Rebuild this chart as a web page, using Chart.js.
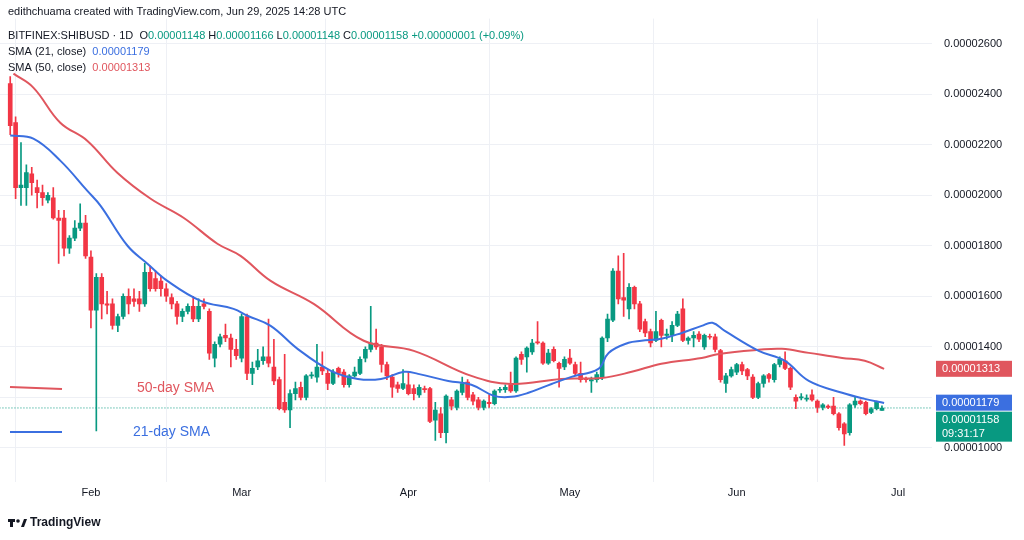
<!DOCTYPE html>
<html>
<head>
<meta charset="utf-8">
<script src="https://cdn.jsdelivr.net/npm/chart.js@4"></script>
<style>
  html, body { margin: 0; padding: 0; background: #fff; }
  #wrap { width: 1024px; height: 540px; position: relative; }
</style>
</head>
<body>
<div id="wrap"><canvas id="myChart" width="1024" height="540"></canvas></div>
<script>
// daily candles, SHIB/USD, Jan 17 .. Jun 29 2025, prices in units of 1e-6
const opens = [24.42,22.87,20.3,20.3,20.85,20.3,20.1,19.8,19.9,19.1,19.1,17.9,18.3,18.7,18.9,17.55,15.45,16.75,15.7,15.7,14.85,15.2,16.0,15.9,15.9,15.7,16.95,16.7,16.6,16.3,15.95,15.7,15.2,15.4,15.6,15.1,15.7,15.4,13.55,14.1,14.45,14.35,13.9,
  13.55,15.2,12.95,13.2,13.45,13.6,13.2,12.7,11.8,11.5,12.15,12.4,12.0,12.85,12.8,13.2,12.95,12.55,13.15,13.0,12.5,12.85,12.95,13.55,13.9,14.15,14.0,13.3,12.8,12.5,12.35,12.5,12.35,12.1,12.35,12.35,11.1,11.35,10.6,11.9,11.6,12.2,12.6,
  12.1,11.9,11.6,11.8,11.75,12.28,12.3,12.5,12.25,13.7,13.6,13.8,14.2,14.15,13.35,13.9,13.35,13.2,13.55,13.3,12.95,12.75,12.65,12.7,12.8,14.35,15.05,17.0,15.95,15.5,16.35,15.7,15.0,14.6,14.25,15.05,14.45,14.45,14.85,15.5,14.25,14.35,14.5,
  14.0,14.42,14.4,13.85,12.55,12.85,13.0,13.3,13.1,12.8,12.0,12.55,12.9,12.7,13.3,13.45,13.15,12.0,11.98,11.93,12.1,11.85,11.6,11.65,11.65,11.35,10.95,10.6,11.7,11.85,11.8,11.4,11.55,11.48];
const closes = [22.75,20.3,20.4,20.9,20.5,20.1,19.9,20.0,19.1,19.0,17.9,18.3,18.7,18.9,17.6,15.45,16.75,15.7,15.65,14.85,15.2,16.0,15.7,15.8,15.7,16.95,16.3,16.3,16.3,16.0,15.7,15.2,15.4,15.6,15.1,15.6,15.6,13.75,14.1,14.4,14.35,13.9,13.65,
  15.2,12.95,13.15,13.45,13.6,13.35,12.65,11.55,11.5,12.15,12.35,12.0,12.85,12.88,13.2,13.05,12.55,13.0,12.95,12.5,12.85,13.0,13.5,13.9,14.15,14.0,13.3,12.85,12.4,12.35,12.55,12.15,12.15,12.4,12.3,11.05,11.5,10.6,12.05,11.65,12.25,12.55,12.0,
  11.85,11.6,11.85,11.75,12.25,12.32,12.4,12.25,13.55,13.5,13.95,14.15,14.15,13.35,13.75,13.45,13.15,13.5,13.35,12.95,12.7,12.7,12.7,12.9,14.35,15.1,17.0,15.9,15.85,16.35,15.7,14.7,14.55,14.15,14.6,14.45,14.5,14.85,15.3,14.25,14.35,14.45,14.3,
  14.45,14.38,13.9,12.7,12.85,13.1,13.3,13.05,12.85,12.0,12.55,12.85,12.75,13.3,13.5,13.15,12.4,11.85,12.02,11.97,11.9,11.6,11.7,11.6,11.35,10.8,10.55,11.7,11.85,11.75,11.35,11.55,11.8,11.58];
const highs = [24.7,23.1,22.08,21.2,21.1,20.6,20.4,20.1,20.3,19.4,19.4,18.4,19.0,19.66,19.2,17.8,16.9,16.9,16.2,15.9,15.3,16.1,16.3,16.3,16.2,17.3,17.2,17.0,16.8,16.5,16.1,15.8,15.5,15.7,16.0,15.9,15.9,15.5,14.2,14.5,14.9,14.5,14.3,
  15.3,15.3,13.4,13.9,14.0,15.1,14.3,12.8,13.7,12.3,12.6,12.6,12.9,13.0,14.1,13.8,13.1,13.1,13.2,13.1,12.9,13.2,13.6,14.0,15.6,14.7,14.1,13.4,12.9,12.6,13.1,13.0,12.5,12.5,12.45,12.4,11.8,11.6,12.1,12.0,12.3,12.8,12.7,
  12.2,12.0,11.9,12.1,12.3,12.4,12.5,13.0,13.6,13.8,14.0,14.3,15.0,14.2,13.9,14.0,13.4,13.6,13.9,13.4,13.4,12.8,12.8,13.0,14.4,15.3,17.1,17.6,17.7,16.5,16.4,15.8,15.1,14.7,15.4,15.1,14.7,15.0,15.4,15.9,14.4,14.6,14.6,
  14.5,14.5,14.5,13.9,12.95,13.2,13.35,13.4,13.15,12.9,12.6,12.9,12.95,13.35,13.6,13.8,13.2,12.1,12.15,12.1,12.3,11.9,11.75,11.7,12.0,11.4,11.0,11.75,12.0,11.9,11.85,11.6,11.85,11.66];
const lows = [22.4,19.86,19.6,19.6,20.0,19.5,19.6,19.7,19.05,17.3,17.6,17.7,18.2,18.6,17.5,14.75,10.67,15.1,15.3,14.7,14.6,15.1,15.3,15.6,15.4,15.6,16.2,16.2,16.0,15.8,15.5,14.9,15.0,15.3,15.0,15.0,15.5,13.5,13.2,14.0,14.2,13.2,13.5,
  13.4,12.7,12.5,13.1,13.3,13.2,12.5,11.5,11.4,10.8,11.9,11.9,11.9,12.75,12.6,12.9,12.3,12.5,12.8,12.4,12.4,12.8,12.9,13.4,13.8,13.9,13.0,12.7,12.0,12.2,12.3,12.1,11.9,12.0,12.2,11.0,10.3,10.4,10.2,11.5,11.5,12.1,11.9,
  11.7,11.5,11.5,11.6,11.7,12.2,12.2,12.2,12.2,13.3,13.0,13.7,14.1,13.3,13.3,13.4,12.4,13.1,13.3,12.9,12.6,12.6,12.2,12.6,12.7,14.2,15.0,15.7,15.2,15.1,15.5,14.6,14.4,14.0,14.2,14.0,14.3,14.2,14.8,14.2,14.1,14.0,14.2,
  13.9,14.3,13.8,12.6,12.2,12.8,12.9,12.9,12.7,11.95,11.95,12.4,12.6,12.6,13.2,13.1,12.3,11.55,11.9,11.85,11.85,11.4,11.5,11.55,11.3,10.7,10.1,10.5,11.6,11.7,11.3,11.35,11.5,11.48];

// moving averages: [day index, value]
const sma50 = [[0.6,24.81],[4.3,24.26],[9.3,22.87],[14.3,22.16],[19.9,20.89],[26.1,19.86],[32.2,19.11],[38.5,18.08],[42.8,17.6],[48.4,16.61],[56.4,15.7],[65.7,14.24],[75,13.84],[85.7,12.85],[93.1,12.53],[102.4,12.73],[109.9,12.77],[115.5,13.01],[121,13.33],[128.5,13.56],[131.7,13.72],[139.1,13.88],[143.4,13.92],[148.4,13.76],[154.6,13.56],[158.8,13.45],[162.4,13.13]];
const sma21 = [[0,22.36],[4.3,22.24],[9.3,21.37],[14.3,20.18],[16.8,19.58],[21.8,18.0],[25.5,17.29],[29.2,16.61],[35.4,15.82],[41.5,15.5],[44.1,15.23],[48.4,14.83],[53.4,13.92],[59.6,13.05],[64.6,12.73],[68.9,12.73],[73.2,13.01],[75.8,12.93],[81.4,12.65],[85.7,12.5],[89.9,12.06],[93.1,12.02],[96.3,12.18],[100.6,12.53],[104.3,12.81],[109.3,13.13],[111.2,13.76],[114.9,14.16],[117.3,14.24],[121,14.32],[124.8,14.55],[128.5,14.83],[130.5,14.95],[132.8,14.63],[139.1,13.84],[143.9,13.45],[148.4,12.65],[154.6,12.18],[158.8,11.94],[162.4,11.78]];

const monthTicks = [15, 43, 74, 104, 135, 165];
const monthLabels = ['Feb', 'Mar', 'Apr', 'May', 'Jun', 'Jul'];
const priceTicks = [10, 14, 16, 18, 20, 22, 24, 26];
const gridPrices = [10, 12, 14, 16, 18, 20, 22, 24, 26];
const lastPrice = 11.58, lastSma21 = 11.79, lastSma50 = 13.13;

const UP = '#089981', DOWN = '#f23645', RED_SMA = '#e0565e', BLUE_SMA = '#3b6fe0';
const fmt = v => (v * 1e-6).toFixed(8);

const candleColor = opens.map((o, i) => closes[i] >= o ? UP : DOWN);
const wickData = opens.map((o, i) => ({ x: i, y: [lows[i], highs[i]] }));
const bodyData = opens.map((o, i) => {
  let a = Math.min(o, closes[i]), b = Math.max(o, closes[i]);
  if (b - a < 0.04) b = a + 0.04;
  return { x: i, y: [a, b] };
});

// header texts, right side price tags, bottom logo
const overlay = {
  id: 'overlay',
  afterDraw(chart) {
    const ctx = chart.ctx, y = chart.scales.y;
    ctx.save();
    ctx.textBaseline = 'middle';
    ctx.textAlign = 'left';
    const parts = (arr, yy) => {
      let x = 8;
      arr.forEach(([t, c, f]) => { ctx.font = f || '11px "Liberation Sans", Arial'; ctx.fillStyle = c; ctx.fillText(t, x, yy); x += ctx.measureText(t).width; });
    };
    parts([['edithchuama created with TradingView.com, Jun 29, 2025 14:28 UTC', '#131722']], 12);
    parts([['BITFINEX:SHIBUSD · 1D  ', '#131722'], ['O', '#131722'], ['0.00001148 ', UP], ['H', '#131722'], ['0.00001166 ', UP],
      ['L', '#131722'], ['0.00001148 ', UP], ['C', '#131722'], ['0.00001158 ', UP], ['+0.00000001 (+0.09%)', UP]], 36);
    parts([['SMA (21, close)  ', '#131722'], ['0.00001179', BLUE_SMA]], 52);
    parts([['SMA (50, close)  ', '#131722'], ['0.00001313', RED_SMA]], 68);

    // annotations
    ctx.lineWidth = 2;
    ctx.strokeStyle = RED_SMA; ctx.beginPath(); ctx.moveTo(10, 387); ctx.lineTo(62, 389); ctx.stroke();
    ctx.strokeStyle = BLUE_SMA; ctx.beginPath(); ctx.moveTo(10, 432); ctx.lineTo(62, 432); ctx.stroke();
    ctx.font = '14px "Liberation Sans", Arial';
    ctx.fillStyle = RED_SMA; ctx.fillText('50-day SMA', 137, 388);
    ctx.fillStyle = BLUE_SMA; ctx.fillText('21-day SMA', 133, 432);

    // price tags
    const tag = (v, c, top, h, lines) => {
      ctx.fillStyle = c;
      ctx.fillRect(936, top, 76, h);
      ctx.fillStyle = '#fff'; ctx.font = '11px "Liberation Sans", Arial';
      lines.forEach((t, k) => ctx.fillText(t, 942, top + 8 + k * 14));
    };
    const r = y.getPixelForValue(lastSma50), b = y.getPixelForValue(lastSma21);
    tag(lastSma50, RED_SMA, r - 8, 16, [fmt(lastSma50)]);
    tag(lastSma21, BLUE_SMA, b - 8, 16, [fmt(lastSma21)]);
    const g = Math.max(y.getPixelForValue(lastPrice) - 8, b + 9);
    tag(lastPrice, UP, g, 30, [fmt(lastPrice), '09:31:17']);

    // logo
    ctx.fillStyle = '#131722';
    ctx.fillRect(8, 519, 7, 3); ctx.fillRect(10, 519, 3, 8);
    ctx.beginPath(); ctx.arc(18, 521, 1.8, 0, Math.PI * 2); ctx.fill();
    ctx.beginPath(); ctx.moveTo(21, 527); ctx.lineTo(24, 519); ctx.lineTo(27, 519); ctx.lineTo(24, 527); ctx.fill();
    ctx.font = 'bold 12px "Liberation Sans", Arial';
    ctx.fillText('TradingView', 30, 523);
    ctx.restore();
  }
};

new Chart(document.getElementById('myChart').getContext('2d'), {
  type: 'bar',
  data: {
    datasets: [
      { type: 'line', data: sma21.map(p => ({ x: p[0], y: p[1] })), borderColor: BLUE_SMA, borderWidth: 2, pointRadius: 0, tension: 0.4, order: 0 },
      { type: 'line', data: sma50.map(p => ({ x: p[0], y: p[1] })), borderColor: RED_SMA, borderWidth: 2, pointRadius: 0, tension: 0.4, order: 0 },
      { type: 'line', data: [{ x: -2, y: lastPrice }, { x: 172, y: lastPrice }], borderColor: UP, borderWidth: 1, borderDash: [1, 2], pointRadius: 0, order: 3 },
      { data: bodyData, backgroundColor: candleColor, barThickness: 4, grouped: false, order: 1 },
      { data: wickData, backgroundColor: candleColor, barThickness: 1, grouped: false, order: 2 }
    ]
  },
  options: {
    responsive: false,
    animation: false,
    plugins: { legend: { display: false }, tooltip: { enabled: false } },
    scales: {
      x: {
        type: 'linear', min: -1.9, max: 171.3, offset: false,
        afterFit: s => { s.height = 58; },
        afterBuildTicks: s => { s.ticks = monthTicks.map(v => ({ value: v })); },
        ticks: { callback: v => monthLabels[monthTicks.indexOf(v)], color: '#131722', font: { size: 11 }, padding: 4, maxRotation: 0 },
        grid: { color: '#eef0f5', drawTicks: false },
        border: { display: false }
      },
      y: {
        position: 'right', min: 8.65, max: 26.99,
        afterFit: s => { s.width = 92; },
        afterBuildTicks: s => { s.ticks = gridPrices.map(v => ({ value: v })); },
        ticks: { callback: v => priceTicks.includes(v) ? fmt(v) : '', color: '#131722', font: { size: 11 }, padding: 12 },
        grid: { color: '#eef0f5', drawTicks: false },
        border: { display: false }
      }
    }
  },
  plugins: [overlay]
});
</script>
</body>
</html>
